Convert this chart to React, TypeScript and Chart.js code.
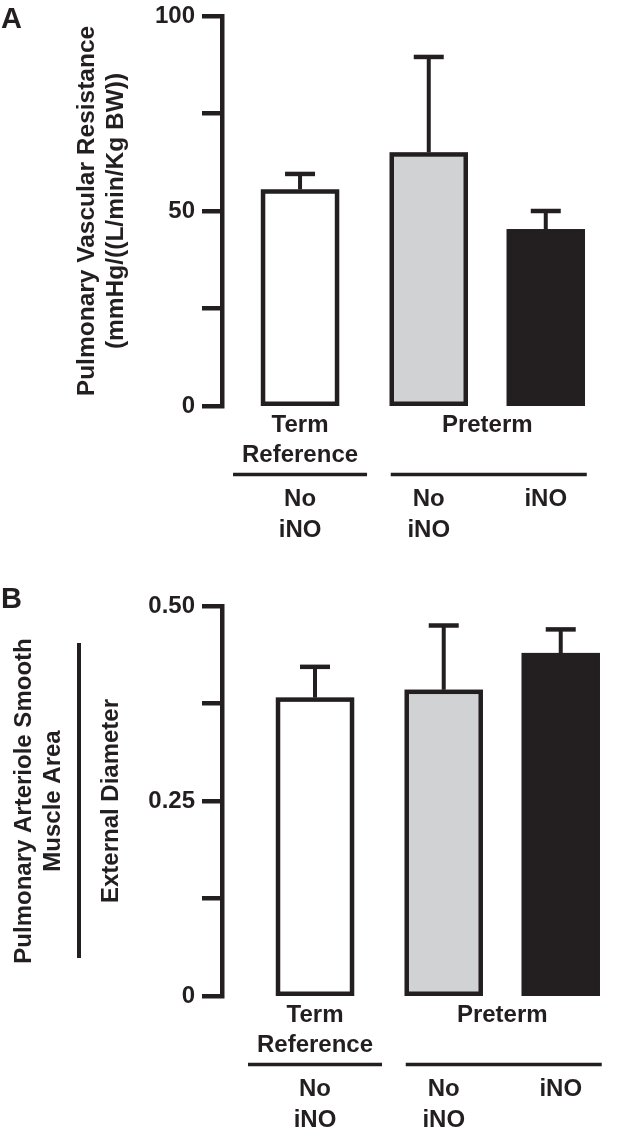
import React, { useEffect, useRef } from "react";
import { Chart, registerables } from "chart.js";

Chart.register(...registerables);

// ---------- data ----------
const categories = ["Term Reference, No iNO", "Preterm, No iNO", "Preterm, iNO"];
const groupIndex = [0, 1, 1];
const groupLabels = [["Term", "Reference"], ["Preterm"]];
const treatmentLabels = [["No", "iNO"], ["No", "iNO"], ["iNO"]];

const pvrMeans = [55.0, 64.5, 44.8];
const pvrErrors = [4.5, 25.0, 5.2];
const pvrTicks = [0, 25, 50, 75, 100];
const pvrTickLabels = ["0", "", "50", "", "100"];
const pvrTitle = ["Pulmonary Vascular Resistance", "(mmHg/((L/min/Kg BW))"];

const smaMeans = [0.38, 0.39, 0.437];
const smaErrors = [0.042, 0.085, 0.033];
const smaTicks = [0, 0.125, 0.25, 0.375, 0.5];
const smaTickLabels = ["0", "", "0.25", "", "0.50"];
const smaTitle = ["Pulmonary Arteriole Smooth", "Muscle Area", "", "External Diameter"];

// ---------- styles ----------
const DARK = "#231f20";
const barColors = ["#ffffff", "#d1d2d4", "#231f20"];
const FAMILY = '"Liberation Sans", Arial, Helvetica, sans-serif';
const FONT_SIZE = 24;
const GROUP_GAP = 0.1;
const X_RANGE = 3.316;

type Panel = {
  letter: string;
  height: number;
  top: number;
  bottom: number;
  xMin: number;
  max: number;
  means: number[];
  errors: number[];
  ticks: number[];
  tickLabels: string[];
  title: string[];
  titleSize: number;
  titlePad: number;
  letterBaseline: number;
  fraction?: { x: number; top: number; bottom: number };
};

const panels: Panel[] = [
  {
    letter: "A",
    height: 570,
    top: 16,
    bottom: 406,
    xMin: -0.667,
    max: 100,
    means: pvrMeans,
    errors: pvrErrors,
    ticks: pvrTicks,
    tickLabels: pvrTickLabels,
    title: pvrTitle,
    titleSize: 24.5,
    titlePad: 73,
    letterBaseline: 28,
  },
  {
    letter: "B",
    height: 567,
    top: 36,
    bottom: 426,
    xMin: -0.795,
    max: 0.5,
    means: smaMeans,
    errors: smaErrors,
    ticks: smaTicks,
    tickLabels: smaTickLabels,
    title: smaTitle,
    titleSize: 24,
    titlePad: 9.5,
    letterBaseline: 38,
    fraction: { x: 79, top: 73, bottom: 388 },
  },
];

const position = (i: number) => i + GROUP_GAP * groupIndex[i];

function makePlugin(panel: Panel) {
  return {
    id: "decor" + panel.letter,
    afterDatasetsDraw(chart: any) {
      const ctx: CanvasRenderingContext2D = chart.ctx;
      const meta = chart.getDatasetMeta(0);
      const yScale = chart.scales.y;
      const area = chart.chartArea;
      const centers: number[] = [];
      ctx.save();
      ctx.strokeStyle = DARK;
      ctx.fillStyle = DARK;
      ctx.lineCap = "butt";
      meta.data.forEach((el: any, i: number) => {
        const { x, y, base, width } = el.getProps(["x", "y", "base", "width"], true);
        centers.push(x);
        // outline
        ctx.lineWidth = 4.5;
        ctx.strokeRect(x - width / 2, y, width, base - y);
        // error bar
        const capY = yScale.getPixelForValue(panel.means[i] + panel.errors[i]);
        ctx.beginPath();
        ctx.lineWidth = 4;
        ctx.moveTo(x, y - 2);
        ctx.lineTo(x, capY);
        ctx.stroke();
        ctx.beginPath();
        ctx.lineWidth = 4.5;
        ctx.moveTo(x - 15, capY);
        ctx.lineTo(x + 15, capY);
        ctx.stroke();
      });

      // category labels
      const b = area.bottom;
      ctx.font = `bold ${FONT_SIZE}px ${FAMILY}`;
      ctx.textAlign = "center";
      ctx.textBaseline = "middle";
      const g0 = centers[0];
      const g1 = (centers[1] + centers[2]) / 2;
      groupLabels[0].forEach((t, k) => ctx.fillText(t, g0, b + 19 + k * 30));
      groupLabels[1].forEach((t, k) => ctx.fillText(t, g1, b + 19 + k * 30));
      ctx.lineWidth = 3.5;
      ctx.beginPath();
      ctx.moveTo(centers[0] - 67, b + 68.5);
      ctx.lineTo(centers[0] + 67, b + 68.5);
      ctx.moveTo(centers[1] - 38, b + 68.5);
      ctx.lineTo(centers[2] + 41, b + 68.5);
      ctx.stroke();
      treatmentLabels.forEach((lines, i) =>
        lines.forEach((t, k) => ctx.fillText(t, centers[i], b + 93 + k * 31))
      );

      // panel letter
      ctx.font = `bold 29px ${FAMILY}`;
      ctx.textAlign = "left";
      ctx.textBaseline = "alphabetic";
      ctx.fillText(panel.letter, 1, panel.letterBaseline);

      // fraction bar of the axis title
      if (panel.fraction) {
        ctx.lineWidth = 4;
        ctx.beginPath();
        ctx.moveTo(panel.fraction.x, panel.fraction.top);
        ctx.lineTo(panel.fraction.x, panel.fraction.bottom);
        ctx.stroke();
      }
      ctx.restore();
    },
  };
}

function PanelChart({ panel }: { panel: Panel }) {
  const ref = useRef<HTMLCanvasElement | null>(null);
  useEffect(() => {
    if (!ref.current) return;
    const chart = new Chart(ref.current, {
      type: "bar",
      data: {
        labels: categories,
        datasets: [
          {
            data: panel.means.map((m, i) => ({ x: position(i), y: m })),
            backgroundColor: barColors,
            borderWidth: 0,
            barThickness: 74,
          } as any,
        ],
      },
      options: {
        responsive: false,
        animation: false,
        devicePixelRatio: 1,
        layout: {
          padding: { top: panel.top, bottom: panel.height - panel.bottom, left: 0, right: 11 },
        },
        plugins: { legend: { display: false }, tooltip: { enabled: false } },
        scales: {
          x: {
            type: "linear",
            display: false,
            min: panel.xMin,
            max: panel.xMin + X_RANGE,
            offset: false,
          },
          y: {
            type: "linear",
            min: 0,
            max: panel.max,
            afterFit: (s: any) => {
              s.width = 222;
              s.paddingTop = 0;
              s.paddingBottom = 0;
            },
            afterBuildTicks: (s: any) => {
              s.ticks = panel.ticks.map((v) => ({ value: v }));
            },
            ticks: {
              autoSkip: false,
              padding: 7,
              color: DARK,
              font: { family: FAMILY, size: FONT_SIZE, weight: "bold" },
              callback: (_v: any, i: number) => panel.tickLabels[i],
            },
            grid: {
              drawOnChartArea: false,
              drawTicks: true,
              tickLength: 20,
              tickWidth: 4.5,
              tickColor: DARK,
              color: DARK,
              lineWidth: 4.5,
            },
            border: { display: true, width: 4.5, color: DARK },
            title: {
              display: true,
              text: panel.title,
              color: DARK,
              font: { family: FAMILY, size: panel.titleSize, weight: "bold", lineHeight: "29px" },
              padding: { top: panel.titlePad, bottom: 0 },
            },
          } as any,
        },
      },
      plugins: [makePlugin(panel)],
    } as any);
    return () => chart.destroy();
  }, [panel]);
  return <canvas ref={ref} width={621} height={panel.height} style={{ display: "block" }} />;
}

export default function App() {
  useEffect(() => {
    document.body.style.margin = "0";
    document.body.style.background = "#ffffff";
  }, []);
  return (
    <div style={{ width: 621, height: 1137, background: "#ffffff" }}>
      {panels.map((p) => (
        <PanelChart key={p.letter} panel={p} />
      ))}
    </div>
  );
}
